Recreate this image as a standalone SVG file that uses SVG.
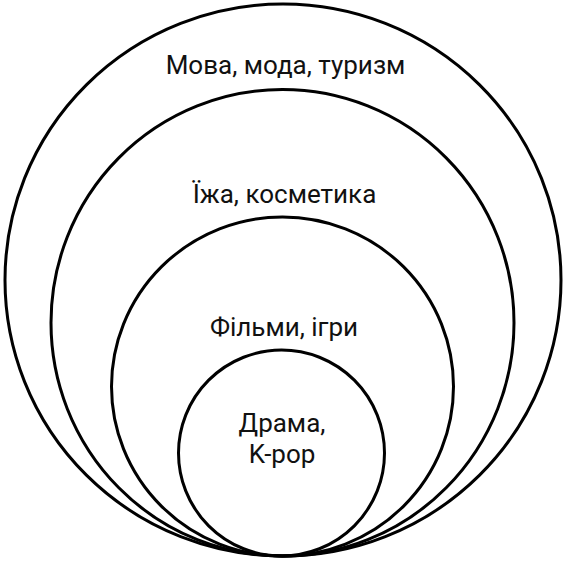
<svg xmlns="http://www.w3.org/2000/svg" width="567" height="561" viewBox="0 0 567 561">
<style>
.c{fill:none;stroke:#000;stroke-width:3}
.t{font-family:Roboto,"Liberation Sans",sans-serif;font-size:26px;fill:#111;text-anchor:middle}
</style>
<rect width="567" height="561" fill="#fff"/>
<g id="outer"><ellipse class="c" cx="283" cy="280" rx="278" ry="276"/><text class="t" x="285.5" y="74">Мова, мода, туризм</text></g>
<g id="second"><ellipse class="c" cx="282.5" cy="322.8" rx="231.5" ry="233.3"/><text class="t" x="284.5" y="203">Їжа, косметика</text></g>
<g id="third"><ellipse class="c" cx="282.5" cy="386.5" rx="171" ry="169.5"/><text class="t" x="284" y="336">Фільми, ігри</text></g>
<g id="inner"><ellipse class="c" cx="281.5" cy="453" rx="103" ry="103"/><text class="t" x="282" y="432">Драма,</text><text class="t" x="282" y="463">K-pop</text></g>
</svg>
